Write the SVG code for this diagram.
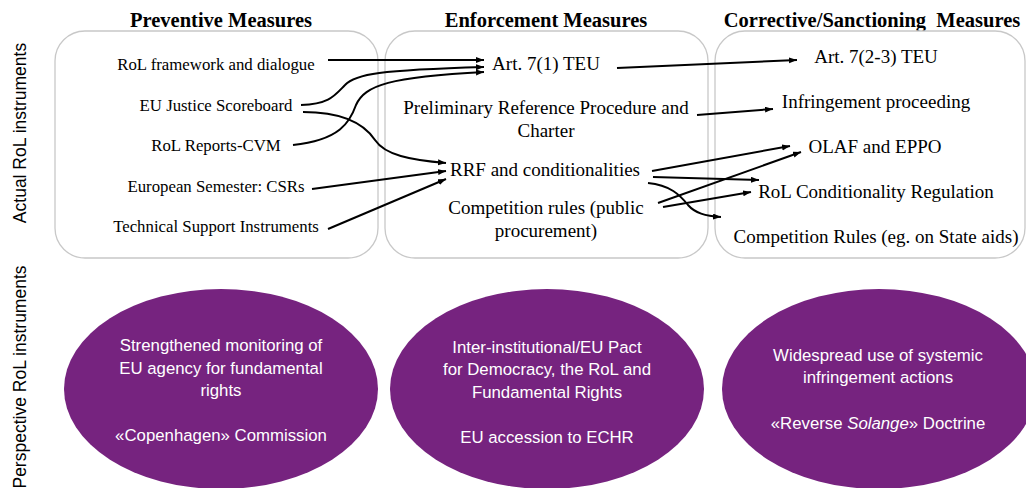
<svg xmlns="http://www.w3.org/2000/svg" width="1026" height="488" viewBox="0 0 1026 488">
<defs>
<marker id="ah" markerUnits="userSpaceOnUse" markerWidth="9" markerHeight="7" refX="8" refY="3" orient="auto">
<path d="M0,0 L8,3 L0,6 z" fill="#000"/>
</marker>
<style>
.box{fill:#fff;stroke:#c8c8c8;stroke-width:1.3}
.title{font-family:"Liberation Serif",serif;font-weight:bold;font-size:20.5px;fill:#000;text-anchor:middle}
.t17{font-family:"Liberation Serif",serif;font-size:16.8px;fill:#000;text-anchor:middle}
.t19{font-family:"Liberation Serif",serif;font-size:19px;fill:#000;text-anchor:middle}
.side{font-family:"Liberation Sans",sans-serif;font-size:17.5px;fill:#000;text-anchor:middle}
.ell{fill:#76237f}
.et{font-family:"Liberation Sans",sans-serif;font-size:16.8px;fill:#fff;text-anchor:middle}
.c{fill:none;stroke:#000;stroke-width:2;marker-end:url(#ah)}
</style>
</defs>
<rect width="1026" height="488" fill="#fff"/>

<g id="titles">
<text class="title" x="221" y="27">Preventive Measures</text>
<text class="title" x="546" y="27">Enforcement Measures</text>
<text class="title" x="872" y="27" xml:space="preserve">Corrective/Sanctioning  Measures</text>
</g>

<g id="side-labels">
<text class="side" transform="translate(26,133) rotate(-90)">Actual RoL instruments</text>
<text class="side" transform="translate(26,377) rotate(-90)">Perspective RoL instruments</text>
</g>

<g id="preventive">
<rect class="box" x="55" y="31" width="323" height="227" rx="30"/>
<text class="t17" x="216" y="70">RoL framework and dialogue</text>
<text class="t17" x="216" y="111">EU Justice Scoreboard</text>
<text class="t17" x="216" y="151">RoL Reports-CVM</text>
<text class="t17" x="216" y="192">European Semester: CSRs</text>
<text class="t17" x="216" y="232">Technical Support Instruments</text>
</g>

<g id="enforcement">
<rect class="box" x="385" y="31" width="323" height="227" rx="30"/>
<text class="t19" x="546" y="70">Art. 7(1) TEU</text>
<text class="t19" x="546" y="114">Preliminary Reference Procedure and</text>
<text class="t19" x="546" y="137">Charter</text>
<text class="t19" x="545" y="176">RRF and conditionalities</text>
<text class="t19" x="546" y="214">Competition rules (public</text>
<text class="t19" x="546" y="237">procurement)</text>
</g>

<g id="corrective">
<rect class="box" x="715" y="31" width="310" height="227" rx="30"/>
<text class="t19" x="876" y="63">Art. 7(2-3) TEU</text>
<text class="t19" x="876" y="108">Infringement proceeding</text>
<text class="t19" x="875" y="153">OLAF and EPPO</text>
<text class="t19" x="876" y="198">RoL Conditionality Regulation</text>
<text class="t19" x="876" y="243">Competition Rules (eg. on State aids)</text>
</g>

<g id="connectors">
<path class="c" d="M328,60 L484,60"/>
<path class="c" d="M301,105 C330,104 335,95 345,85 C355,74 380,70 484,67"/>
<path class="c" d="M293,145 C340,140 350,122 356,105 C365,85 390,77 484,72"/>
<path class="c" d="M303,112 C345,112 365,125 375,140 C385,155 410,160 446,163"/>
<path class="c" d="M312,189 L446,171"/>
<path class="c" d="M328,229 L446,179"/>
<path class="c" d="M617,68 L797,60"/>
<path class="c" d="M697,115 L773,109"/>
<path class="c" d="M652,171 L790,146"/>
<path class="c" d="M653,177 L759,180"/>
<path class="c" d="M648,183 C670,185 680,195 688,205 C695,213 705,216 721,217"/>
<path class="c" d="M658,203 L801,152"/>
<path class="c" d="M663,207 L751,192"/>
</g>

<g id="perspective-preventive">
<ellipse class="ell" cx="221" cy="389" rx="157" ry="100"/>
<text class="et" x="221" y="351">Strengthened monitoring of</text>
<text class="et" x="221" y="374">EU agency for fundamental</text>
<text class="et" x="221" y="396">rights</text>
<text class="et" x="221" y="441">«Copenhagen» Commission</text>
</g>

<g id="perspective-enforcement">
<ellipse class="ell" cx="547" cy="389" rx="157" ry="100"/>
<text class="et" x="547" y="353">Inter-institutional/EU Pact</text>
<text class="et" x="547" y="375">for Democracy, the RoL and</text>
<text class="et" x="547" y="398">Fundamental Rights</text>
<text class="et" x="547" y="443">EU accession to ECHR</text>
</g>

<g id="perspective-corrective">
<ellipse class="ell" cx="879" cy="389" rx="157" ry="100"/>
<text class="et" x="878" y="361">Widespread use of systemic</text>
<text class="et" x="878" y="383">infringement actions</text>
<text class="et" x="878" y="429">«Reverse <tspan font-style="italic">Solange</tspan>» Doctrine</text>
</g>
</svg>
